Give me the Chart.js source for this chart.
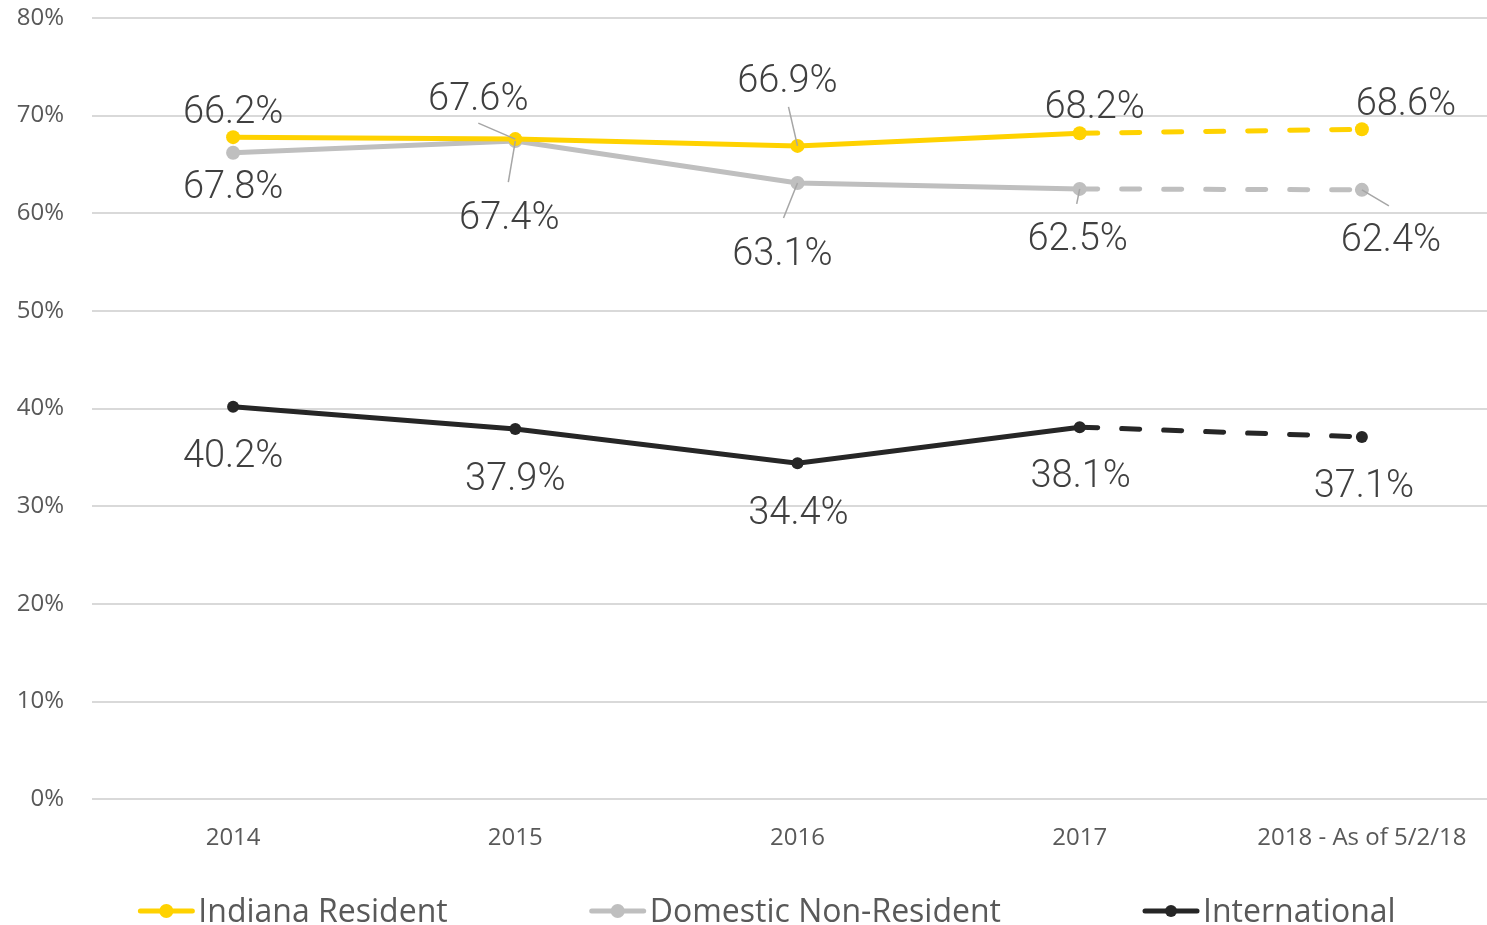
<!DOCTYPE html>
<html>
<head>
<meta charset="utf-8">
<script src="https://cdn.jsdelivr.net/npm/chart.js@4.4.1/dist/chart.umd.min.js"></script>
<style>
  html, body { margin: 0; padding: 0; background: #fff; overflow: hidden; }
  #wrap { position: relative; width: 1510px; height: 925px; }
</style>
</head>
<body>
<div id="wrap"><canvas id="retentionChart"></canvas></div>
<script>
const years = ['2014', '2015', '2016', '2017', '2018 - As of 5/2/18'];
const indianaResident = [67.8, 67.6, 66.9, 68.2, 68.6];
const domesticNonResident = [66.2, 67.4, 63.1, 62.5, 62.4];
const international = [40.2, 37.9, 34.4, 38.1, 37.1];
const yTicks = [0, 10, 20, 30, 40, 50, 60, 70, 80];

const YELLOW = '#FFD200';
const GRAY = '#BFBFBF';
const DARK = '#262626';

// label placement (pixel offsets from each point) and leader line starts
const labelOffsets = [
  [[0, 51], [-37, -39], [-10, -63], [15, -25], [44, -24]],
  [[0, -39], [-6, 78], [-15, 72], [-2, 52], [29, 52]],
  [[0, 51], [0, 51], [1, 51], [1, 50], [2, 51]]
];
const leaders = [
  [null, [-37, -16], [-9, -39], null, null],
  [null, [-7, 41], [-14, 35], [-3, 15], [27, 16]],
  [null, null, null, null, null]
];

const dashLast = (ctx) => ctx.p1DataIndex === years.length - 1 ? [18, 24] : undefined;

const pointLabels = {
  id: 'pointLabels',
  afterDatasetsDraw(chart) {
    const ctx = chart.ctx;
    ctx.save();
    chart.data.datasets.forEach((ds, di) => {
      const meta = chart.getDatasetMeta(di);
      meta.data.forEach((pt, i) => {
        const lead = leaders[di][i];
        if (lead) {
          ctx.strokeStyle = '#A6A6A6';
          ctx.lineWidth = 1.5;
          ctx.beginPath();
          ctx.moveTo(pt.x + lead[0], pt.y + lead[1]);
          ctx.lineTo(pt.x, pt.y);
          ctx.stroke();
        }
        const off = labelOffsets[di][i];
        ctx.fillStyle = '#404040';
        ctx.font = '300 38px Roboto, "Open Sans", sans-serif';
        ctx.textAlign = 'center';
        ctx.textBaseline = 'middle';
        ctx.fillText(ds.data[i].toFixed(1) + '%', pt.x + off[0], pt.y + off[1]);
      });
    });
    ctx.restore();
  }
};

// legend row under the axis: line-with-dot marker, then the series name
const bottomLegend = {
  id: 'bottomLegend',
  afterDraw(chart) {
    const ctx = chart.ctx;
    const markerW = 56, textGap = 4, itemGap = 142, centerX = 767, y = 911;
    ctx.save();
    ctx.font = '32px "Open Sans"';
    ctx.textBaseline = 'middle';
    ctx.textAlign = 'left';
    const items = chart.data.datasets.map(ds => ({ ds, w: markerW + textGap + ctx.measureText(ds.label).width }));
    const total = items.reduce((s, it) => s + it.w, 0) + itemGap * (items.length - 1);
    let x = centerX - total / 2;
    items.forEach(({ ds, w }) => {
      ctx.strokeStyle = ds.borderColor;
      ctx.lineWidth = 5;
      ctx.lineCap = 'round';
      ctx.beginPath();
      ctx.moveTo(x + 2, y);
      ctx.lineTo(x + markerW - 2, y);
      ctx.stroke();
      ctx.fillStyle = ds.borderColor;
      ctx.beginPath();
      ctx.arc(x + markerW / 2, y, ds.pointRadius, 0, Math.PI * 2);
      ctx.fill();
      ctx.fillStyle = '#595959';
      ctx.fillText(ds.label, x + markerW + textGap, y + 2);
      x += w + itemGap;
    });
    ctx.restore();
  }
};

new Chart(document.getElementById('retentionChart'), {
  type: 'line',
  data: {
    labels: years,
    datasets: [
      {
        label: 'Indiana Resident',
        data: indianaResident,
        borderColor: YELLOW,
        backgroundColor: YELLOW,
        borderWidth: 5,
        pointRadius: 7,
        pointBorderWidth: 0,
        borderCapStyle: 'round',
        segment: { borderDash: dashLast }
      },
      {
        label: 'Domestic Non-Resident',
        data: domesticNonResident,
        borderColor: GRAY,
        backgroundColor: GRAY,
        borderWidth: 5,
        pointRadius: 7,
        pointBorderWidth: 0,
        borderCapStyle: 'round',
        segment: { borderDash: dashLast }
      },
      {
        label: 'International',
        data: international,
        borderColor: DARK,
        backgroundColor: DARK,
        borderWidth: 5,
        pointRadius: 6,
        pointBorderWidth: 0,
        borderCapStyle: 'round',
        segment: { borderDash: dashLast }
      }
    ]
  },
  options: {
    responsive: true,
    maintainAspectRatio: false,
    animation: false,
    layout: { padding: { top: 18, right: 0, left: 0, bottom: 55 } },
    scales: {
      x: {
        offset: true,
        grid: { display: false },
        border: { display: false },
        ticks: {
          color: '#595959',
          font: { family: '"Open Sans"', size: 24 },
          padding: 17,
          maxRotation: 0
        }
      },
      y: {
        min: 0,
        max: 80,
        afterFit(scale) {
          scale.width = 92;
          scale.paddingTop = 14;
          scale.paddingBottom = 14;
        },
        afterBuildTicks(scale) { scale.ticks = yTicks.map(v => ({ value: v })); },
        grid: { color: '#D9D9D9', lineWidth: 2, drawTicks: false },
        border: { display: false },
        ticks: {
          color: '#595959',
          font: { family: '"Open Sans"', size: 24 },
          padding: 28,
          callback: (v) => v + '%'
        }
      }
    },
    plugins: {
      tooltip: { enabled: false },
      legend: { display: false }
    }
  },
  plugins: [pointLabels, bottomLegend]
});
</script>
</body>
</html>
